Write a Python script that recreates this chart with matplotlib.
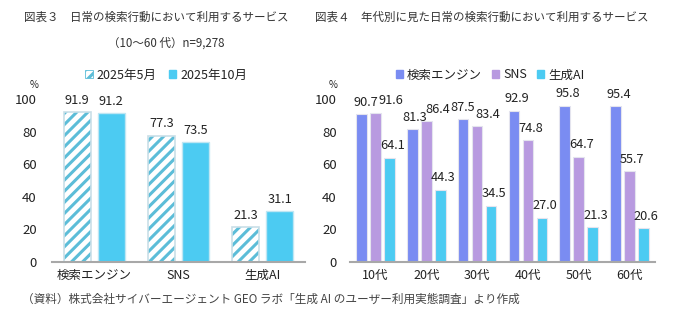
import numpy as np
import matplotlib
matplotlib.use("Agg")
import matplotlib.pyplot as plt
from matplotlib.patches import Patch

plt.rcParams["font.family"] = ["Noto Sans CJK JP", "DejaVu Sans"]
plt.rcParams["hatch.linewidth"] = 2.2

# Fig.3: services used, survey rounds compared
services = ["検索エンジン", "SNS", "生成AI"]
may_2025 = [91.9, 77.3, 21.3]
oct_2025 = [91.2, 73.5, 31.1]
rounds = ["2025年5月", "2025年10月"]

# Fig.4: services used by age group
ages = ["10代", "20代", "30代", "40代", "50代", "60代"]
search_engine = [90.7, 81.3, 87.5, 92.9, 95.8, 95.4]
sns = [91.6, 86.4, 83.4, 74.8, 64.7, 55.7]
gen_ai = [64.1, 44.3, 34.5, 27.0, 21.3, 20.6]
series_names = ["検索エンジン", "SNS", "生成AI"]

CYAN = "#4ccbf2"
BLUE = "#7a8cf2"
PURPLE = "#b89ae0"
STRIPE = "#5cbdd8"
TXT = "#222222"

W, H = 680, 330
fig = plt.figure(figsize=(W / 100, H / 100), dpi=100)


def fx(px):
    return px / W


def fy(py):
    return 1 - py / H


def style_axes(ax, pad):
    for side in ["top", "right", "left"]:
        ax.spines[side].set_visible(False)
    ax.spines["bottom"].set_color("#a8a8a8")
    ax.spines["bottom"].set_linewidth(1.5)
    ax.set_ylim(0, 100)
    ax.set_yticks(np.arange(0, 101, 20))
    ax.tick_params(axis="y", length=0, pad=pad, labelsize=9.5, labelcolor=TXT)
    ax.tick_params(axis="x", length=0, pad=5, labelsize=9, labelcolor=TXT)


def value_label(ax, x, v, dx=0):
    ax.annotate(f"{v:.1f}", (x, v), xytext=(dx, 4), textcoords="offset points",
                ha="center", va="bottom", fontsize=9.2, color=TXT,
                annotation_clip=False)


# ---- left chart ----
ax1 = fig.add_axes([fx(52), fy(262), fx(253), 163 / H])
x1 = np.arange(len(services))
bw1, off1 = 0.32, 0.2
ax1.bar(x1 - off1, may_2025, bw1, color="white", edgecolor=STRIPE,
        hatch="///", linewidth=0)
ax1.bar(x1 - off1, may_2025, bw1, fill=False, edgecolor="#c9dfe8", linewidth=1.2)
ax1.bar(x1 + off1, oct_2025, bw1, color=CYAN, edgecolor="#bfe6f3", linewidth=1.0)
for i in range(len(services)):
    value_label(ax1, x1[i] - off1, may_2025[i])
    value_label(ax1, x1[i] + off1, oct_2025[i])
ax1.set_xlim(-0.5, len(services) - 0.5)
ax1.set_xticks(x1)
ax1.set_xticklabels(services)
style_axes(ax1, 11)

h1 = [Patch(facecolor="white", edgecolor=STRIPE, hatch="///", linewidth=0.6),
      Patch(facecolor=CYAN, edgecolor=CYAN)]
fig.legend(h1, rounds, loc="center", bbox_to_anchor=(fx(166), fy(75)), ncol=2,
           frameon=False, fontsize=9, handlelength=0.6, handleheight=0.6,
           handletextpad=0.3, columnspacing=1.0, labelcolor=TXT)

# ---- right chart ----
ax2 = fig.add_axes([fx(350), fy(262), fx(305), 163 / H])
x2 = np.arange(len(ages))
bw2, off2 = 0.21, 0.275
colors = [BLUE, PURPLE, CYAN]
groups = [search_engine, sns, gen_ai]
# horizontal nudges (points) for labels that would otherwise collide
nudge = {(1, 0): 11, (1, 1): 8, (1, 2): 8, (0, 0): 3, (0, 2): 0}
for k, (vals, c) in enumerate(zip(groups, colors)):
    xs = x2 + (k - 1) * off2
    ax2.bar(xs, vals, bw2, color=c, edgecolor="#e4e4ee", linewidth=0.8)
    for i, v in enumerate(vals):
        value_label(ax2, xs[i], v, nudge.get((k, i), 2))
ax2.set_xlim(-0.5, len(ages) - 0.5)
ax2.set_xticks(x2)
ax2.set_xticklabels(ages)
style_axes(ax2, 9.5)

h2 = [Patch(facecolor=c, edgecolor=c) for c in colors]
fig.legend(h2, series_names, loc="center", bbox_to_anchor=(fx(490), fy(75)),
           ncol=3, frameon=False, fontsize=9, handlelength=0.6,
           handleheight=0.6, handletextpad=0.3, columnspacing=0.8,
           labelcolor=TXT)

# ---- unit marks, titles, source ----
fig.text(fx(34), fy(85), "%", fontsize=7, color=TXT, ha="center", va="center")
fig.text(fx(333), fy(85), "%", fontsize=7, color=TXT, ha="center", va="center")

fig.text(fx(24), fy(17), "図表３　日常の検索行動において利用するサービス",
         fontsize=8.3, color="#333333", va="center")
fig.text(fx(108), fy(43), "（10～60 代）n=9,278",
         fontsize=8.3, color="#333333", va="center")
fig.text(fx(315), fy(17), "図表４　年代別に見た日常の検索行動において利用するサービス",
         fontsize=8.3, color="#333333", va="center")
fig.text(fx(22), fy(299),
         "（資料）株式会社サイバーエージェント GEO ラボ「生成 AI のユーザー利用実態調査」より作成",
         fontsize=8.4, color="#444444", va="center")

fig.savefig("out.png", dpi=100)
